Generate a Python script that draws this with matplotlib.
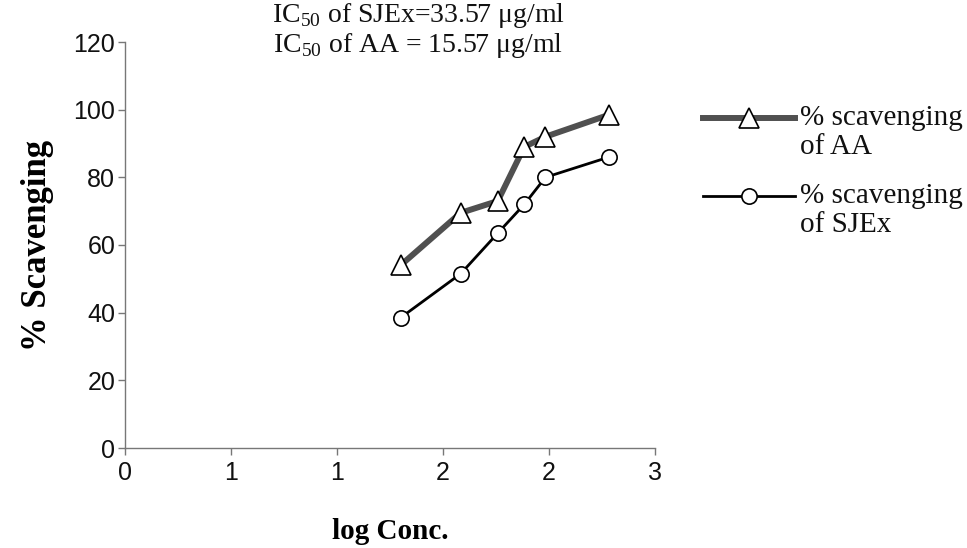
import numpy as np
import matplotlib
matplotlib.use("Agg")
import matplotlib.pyplot as plt
from matplotlib.lines import Line2D
from matplotlib.ticker import FuncFormatter

# log concentration vs % scavenging
log_conc = [1.56, 1.90, 2.11, 2.26, 2.38, 2.74]
scav_aa = [54, 69.5, 73, 89, 92, 98.5]
scav_sjex = [38.5, 51.5, 63.5, 72, 80, 86]

legend_lines = [["% scavenging", "of AA"], ["% scavenging", "of SJEx"]]
note_lines = ["IC$_{50}$ of SJEx=33.57 \u03bcg/ml", "IC$_{50}$ of AA = 15.57 \u03bcg/ml"]

serif = "Liberation Serif"
sans = "Liberation Sans"
plt.rcParams["mathtext.fontset"] = "custom"
plt.rcParams["mathtext.rm"] = serif

W, H = 967, 548
fig = plt.figure(figsize=(W/100, H/100), dpi=100)
ax = fig.add_axes([125/W, 100/H, 530/W, 406/H])

styles = [dict(color="#505050", lw=4.3, marker="^", ms=14),
          dict(color="black", lw=2.0, marker="o", ms=11)]
ax.plot(log_conc, scav_aa, mfc="white", mec="black", mew=1.2, **styles[0])
ax.plot(log_conc, scav_sjex, mfc="white", mec="black", mew=1.2, **styles[1])

ax.set_xlim(0, 3)
ax.set_ylim(0, 120)
ax.set_xticks(np.arange(0, 3.01, 0.6))
ax.xaxis.set_major_formatter(FuncFormatter(lambda v, p: "{:.0f}".format(v)))
ax.set_yticks(np.arange(0, 121, 20))
for s in ["top", "right"]:
    ax.spines[s].set_visible(False)
for s in ["left", "bottom"]:
    ax.spines[s].set_color("#777777")
    ax.spines[s].set_linewidth(1.0)
ax.tick_params(colors="#777777", labelcolor="#111111", length=5, width=1.0,
               labelsize=18)
ax.tick_params(axis="y", pad=2)
ax.tick_params(axis="x", pad=4)
for t in ax.get_xticklabels() + ax.get_yticklabels():
    t.set_fontfamily(sans)

ax.set_xlabel("log Conc.", fontsize=21, fontweight="bold", family=serif, labelpad=24)
ax.set_ylabel("% Scavenging", fontsize=25, fontweight="bold", family=serif, labelpad=14)

# note above the plot
for i, txt in enumerate(note_lines):
    fig.text(418/W, 1 - (16 + 30*i)/H, txt, ha="center", va="center",
             fontsize=20, family=serif, color="#111111")

# legend drawn by hand so the handle sits on the first text line
for i, (lines, st) in enumerate(zip(legend_lines, styles)):
    y0 = 1 - (118 + 78*i)/H
    fig.add_artist(Line2D([703/W, 795/W], [y0, y0], color=st["color"], lw=st["lw"]))
    fig.add_artist(Line2D([749/W], [y0], marker=st["marker"], ms=st["ms"],
                          mfc="white", mec="black", mew=1.2, ls="none"))
    for j, txt in enumerate(lines):
        fig.text(800/W, y0 - 29*j/H, txt, ha="left", va="center",
                 fontsize=21, family=serif, color="#111111")

fig.savefig("out.png", dpi=100)
